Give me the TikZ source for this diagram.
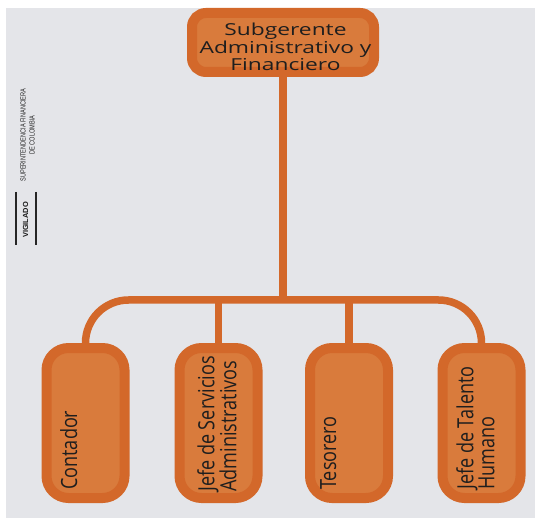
\documentclass[tikz,border=0pt]{standalone}
\usepackage{fontspec}
\setmainfont{Open Sans}
\newfontfamily\topfont[FakeStretch=1.38]{Open Sans}
\newfontfamily\boxfont[FakeStretch=0.81]{Open Sans}
\newfontfamily\logofont[FakeStretch=0.76]{Liberation Sans}
\newfontfamily\vigfont{Liberation Sans}
\definecolor{orgdark}{RGB}{211,104,42}
\definecolor{orglight}{RGB}{217,123,60}
\definecolor{bggray}{RGB}{228,229,233}
\definecolor{txt}{RGB}{30,30,30}
\begin{document}
\begin{tikzpicture}[x=1pt,y=-1pt,
  topbox/.style={rectangle, rounded corners=14pt, draw=orgdark, line width=10pt, fill=orglight, minimum width=182pt, minimum height=59pt, inner sep=0pt},
  subbox/.style={rectangle, rounded corners=22pt, draw=orgdark, line width=10pt, fill=orglight, minimum width=78pt, minimum height=150pt, inner sep=0pt},
  link/.style={draw=orgdark, line width=7.5pt},
  toptext/.style={font=\topfont\fontsize{16.5}{17.5}\selectfont, text=txt, align=center, inner sep=0pt},
  subtext/.style={font=\boxfont\fontsize{22.3}{19}\selectfont, text=txt, align=left, inner sep=0pt, rotate=90, anchor=north west},
  logotext/.style={font=\logofont\fontsize{7.4}{9}\selectfont, text=black!85, align=center, inner sep=0pt, rotate=90},
  vigtext/.style={font=\vigfont\bfseries\fontsize{7.4}{9}\selectfont, text=black!90, inner sep=0pt, rotate=90},
  logoline/.style={draw=black!85, line width=1.5pt}
]
\useasboundingbox (0,0) rectangle (535,518);
\fill[white] (0,0) rectangle (535,518);
\fill[bggray] (6,8) rectangle (535,518);

% logo
\node[logotext] (sfc) at (27.5,135) {SUPERINTENDENCIA FINANCIERA\\DE COLOMBIA};
\node[vigtext] (vig) at (25.5,220) {VIGILADO};
\coordinate (la1) at (16,192);
\coordinate (la2) at (16,245);
\coordinate (lb1) at (36,192);
\coordinate (lb2) at (36,245);
\draw[logoline] (la1) -- (la2);
\draw[logoline] (lb1) -- (lb2);

% boxes
\node[topbox] (top) at (283,42.5) {};
\node[toptext] (toplabel) at (285.5,47) {Subgerente\\Administrativo y\\Financiero};

\node[subbox] (b1) at (85.5,423) {};
\node[subbox] (b2) at (218.5,423) {};
\node[subbox] (b3) at (349,423) {};
\node[subbox] (b4) at (481.5,423) {};

\node[subtext] (t1) at (60,490) {Contador};
\node[subtext] (t2) at (197,492) {Jefe de Servicios\\Administrativos};
\node[subtext] (t3) at (320,490) {Tesorero};
\node[subtext] (t4) at (456,490) {Jefe de Talento\\Humano};

% connectors
\coordinate (hub) at (284,300);
\draw[link] (top.south) -- (top.south |- hub);
\draw[link, rounded corners=43pt] (b1.north) |- (hub) -| (b4.north);
\draw[link] (b2.north) -- (b2.north |- hub);
\draw[link] (b3.north) -- (b3.north |- hub);
\end{tikzpicture}
\end{document}
